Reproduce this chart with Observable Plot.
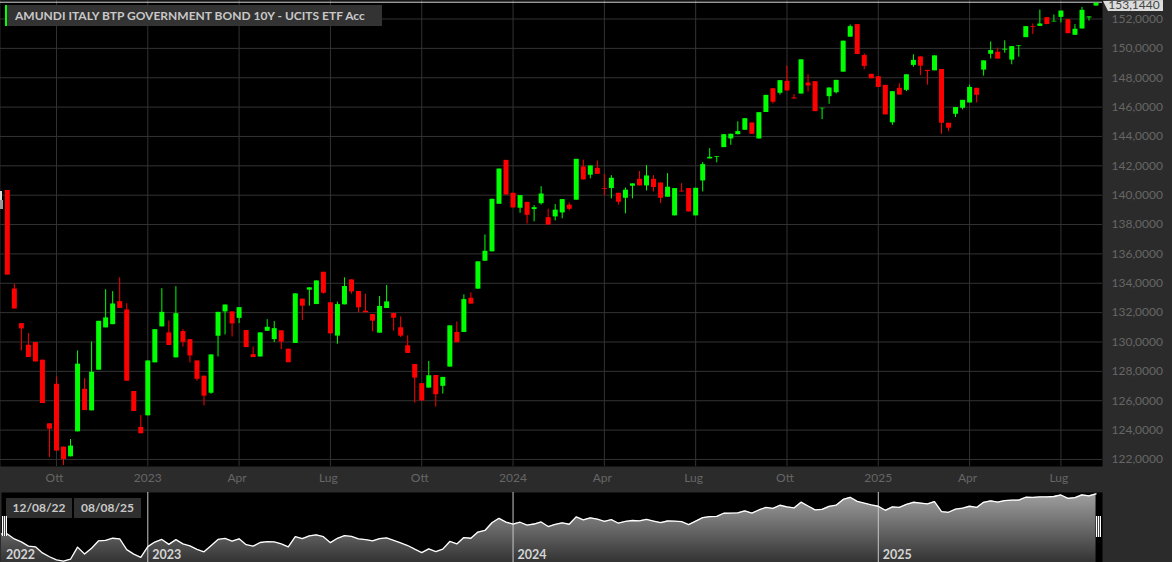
<!DOCTYPE html>
<html lang="it"><head><meta charset="utf-8">
<script src="https://cdn.jsdelivr.net/npm/d3@7"></script>
<script src="https://cdn.jsdelivr.net/npm/@observablehq/plot@0.6"></script>
<style>
html,body{margin:0;padding:0;background:#2b2b2b;overflow:hidden}
#chart{position:relative;width:1172px;height:562px;overflow:hidden;font-family:Lato,sans-serif}
#chart svg{position:absolute;left:0;background:transparent}
.box{position:absolute;background:#2f2f2f;color:#c8c8c8;font-weight:700;font-size:12px;line-height:20px;white-space:nowrap}
.grip{position:absolute;width:5px;background:repeating-linear-gradient(90deg,#fff 0 1px,#444 1px 2px)}
</style></head><body><div id="chart"></div>
<script>
const title = "AMUNDI ITALY BTP GOVERNMENT BOND 10Y - UCITS ETF Acc";
const dateFrom = "12/08/22", dateTo = "08/08/25";
const lastPrice = 153.144, lastLabel = "153,1440";
const yearTickWeeks = [20,72,124];
const yearTickLabels = ["2023","2024","2025"];
const monthTickWeeks = [7,33,46,59,85,98,111,137,150];
const monthTickLabels = ["Ott","Apr","Lug","Ott","Apr","Lug","Ott","Apr","Lug"];
const priceTicks = [122,124,126,128,130,132,134,136,138,140,142,144,146,148,150,152];
const yearLabelWeeks = [-0.83,20,72,124];
const yearLabels = ["2022","2023","2024","2025"];

const opens = [140.32,133.61,131.25,129.78,129.96,128.76,124.43,127.12,122.84,122.18,
123.88,126.78,125.31,128.08,130.96,131.18,132.75,132.18,126.63,124.18,
124.97,128.58,131.03,130.62,128.92,130.71,130.16,128.71,127.67,126.51,
130.39,132.05,132.05,131.61,130.78,129.14,128.98,130.73,130.16,130.76,
129.51,129.90,132.92,133.53,132.55,134.75,132.67,130.40,132.53,134.23,
133.44,132.10,131.87,130.60,132.28,131.94,130.97,129.74,128.47,127.16,
126.86,127.72,126.98,128.29,130.65,130.65,132.98,133.60,135.50,136.14,
139.38,142.37,140.13,139.11,139.51,139.02,139.42,138.47,138.52,138.79,
139.32,139.66,141.92,141.36,141.83,140.45,140.45,140.13,139.79,140.61,
141.08,140.63,141.08,140.83,139.86,138.59,140.27,140.45,138.59,140.97,
142.47,142.58,143.24,143.83,144.12,144.42,144.92,143.83,145.63,147.25,
146.94,147.75,146.62,146.89,147.64,147.73,145.88,146.71,146.98,148.38,
150.76,151.62,149.51,148.23,148.07,147.48,144.93,147.28,147.14,148.84,
149.42,148.50,148.47,148.56,144.90,145.51,145.92,146.28,147.28,148.52,
149.60,149.74,149.88,149.20,150.15,150.73,151.48,151.50,152.09,151.80,
152.11,151.95,150.89,151.32,152.07,152.88];
const closes = [134.56,132.25,130.89,128.94,128.64,125.81,124.06,122.57,122.00,122.91,
128.49,125.33,127.94,131.41,131.64,132.59,132.29,127.33,125.27,123.75,
128.71,130.84,132.02,129.76,131.93,129.98,129.05,127.46,126.31,129.12,
132.02,132.52,131.23,132.34,129.62,128.94,130.62,131.00,130.91,129.99,
128.59,133.28,132.44,133.69,134.16,133.32,130.56,132.55,133.78,133.41,
132.33,131.99,131.42,132.42,132.73,131.62,130.40,129.22,127.54,125.98,
127.70,126.41,127.59,131.10,129.95,132.89,132.58,135.46,136.18,139.72,
141.78,140.01,139.13,139.97,138.63,139.15,140.08,137.97,138.98,139.70,
139.04,142.44,141.04,141.99,141.42,140.40,141.15,139.52,140.34,140.77,
140.63,141.31,140.52,139.79,140.54,140.45,140.22,138.86,140.47,142.08,
142.58,142.63,144.12,144.15,144.33,145.21,144.15,145.62,146.80,146.33,
147.80,147.10,146.55,149.22,147.44,145.69,145.92,147.30,147.82,150.49,
151.48,149.58,148.77,147.93,147.34,145.47,147.05,146.82,148.20,149.18,
148.79,148.43,149.49,144.90,144.56,145.97,146.46,147.34,146.80,149.15,
149.85,149.27,149.94,150.12,150.19,151.48,151.43,151.66,151.62,151.84,
152.54,151.00,151.30,152.59,152.14,153.08];
const highs = [140.32,133.93,131.25,130.57,129.96,128.76,124.43,127.62,122.84,123.36,
129.39,127.51,130.00,131.41,133.56,133.43,134.38,132.61,126.63,124.99,
128.71,130.84,133.63,131.43,133.77,130.84,130.16,128.71,127.67,129.12,
132.02,132.52,132.05,132.34,130.78,129.66,130.62,131.52,131.39,130.76,
129.51,133.28,132.92,133.69,134.16,134.75,132.67,132.71,134.37,134.23,
133.44,133.26,131.87,133.10,133.85,131.94,131.71,130.42,128.47,127.16,
128.68,127.72,127.59,131.10,131.37,133.21,133.35,135.46,137.29,139.72,
141.78,142.37,140.13,139.97,139.51,139.29,140.58,139.04,139.36,139.70,
139.47,142.44,142.38,141.99,142.33,141.42,141.33,140.13,140.49,140.77,
141.61,142.01,141.33,140.83,141.47,140.45,140.79,140.45,140.47,142.22,
143.17,142.63,144.12,144.15,145.00,145.21,144.92,145.62,146.80,147.25,
147.80,148.79,146.85,149.22,148.20,147.73,145.92,147.30,147.82,150.49,
151.59,151.62,149.63,148.23,148.07,147.48,147.05,147.59,148.20,149.56,
149.42,148.50,149.49,148.56,144.90,145.97,146.46,147.50,147.28,149.15,
150.44,150.01,150.51,150.12,150.19,151.48,151.66,152.61,152.09,152.27,
152.54,151.95,151.62,152.79,152.14,153.08];
const lows = [134.56,132.25,129.39,128.94,128.64,125.81,122.14,122.57,121.59,122.18,
123.88,125.33,125.31,128.08,130.96,131.18,132.29,127.33,125.27,123.75,
124.97,128.58,131.03,129.76,128.92,129.66,128.58,127.33,125.65,126.44,
128.98,130.48,130.34,131.25,129.62,128.94,128.98,130.73,129.96,129.47,
128.59,129.90,131.46,132.44,132.55,133.26,130.49,129.85,132.53,133.26,
131.99,131.99,130.69,130.60,132.28,130.74,130.31,129.22,125.84,125.98,
126.86,125.57,126.45,128.29,129.95,130.65,132.58,133.60,135.50,136.14,
139.38,140.01,139.13,138.77,138.04,138.18,139.33,137.97,138.25,138.39,
138.93,139.66,141.04,141.11,141.42,139.97,139.75,139.32,138.73,139.75,
140.63,140.29,140.22,139.43,139.86,138.59,140.22,138.86,138.59,140.22,
142.47,142.20,143.24,143.40,144.12,144.42,144.15,143.83,145.63,146.21,
146.82,147.10,146.55,146.89,147.03,145.69,145.15,146.19,146.89,148.38,
150.76,149.58,148.54,147.93,147.34,145.47,144.75,146.82,147.05,148.72,
148.14,147.50,148.47,144.14,144.32,145.29,145.81,146.28,146.28,148.11,
149.27,149.27,149.67,148.88,149.40,150.73,150.94,151.50,151.62,151.80,
151.73,151.00,150.89,151.32,151.86,152.88];

const candles = closes.map((c,i)=>({week:i,open:opens[i],close:c,high:highs[i],low:lows[i]}));
const upColor="#00ff00", downColor="#ff0000", gridColor="#333333", axisText="#666666";
const col = d => d.close>=d.open ? upColor : downColor;
const allTicks=[...yearTickWeeks,...monthTickWeeks];

const main = Plot.plot({
  width:1172,height:490,marginLeft:0,marginRight:70,marginTop:0,marginBottom:24,
  style:{fontFamily:"Lato, sans-serif",fontSize:"12px",background:"transparent",overflow:"visible"},
  x:{type:"linear",domain:[-0.97,155.92]},
  y:{domain:[121.52,153.26]},
  marks:[
    Plot.frame({fill:"#000",stroke:null}),
    Plot.gridY(priceTicks,{stroke:gridColor,strokeOpacity:1}),
    Plot.gridX(allTicks,{stroke:gridColor,strokeOpacity:1}),
    Plot.axisY(priceTicks,{anchor:"right",tickSize:0,tickPadding:9,label:null,fill:axisText,
      tickFormat:d=>d3.format(".4f")(d).replace(".",",")}),
    Plot.axisX(yearTickWeeks,{anchor:"bottom",tickSize:0,tickPadding:7,label:null,fill:axisText,
      tickFormat:d=>yearTickLabels[yearTickWeeks.indexOf(d)]}),
    Plot.axisX(monthTickWeeks,{anchor:"bottom",tickSize:0,tickPadding:7,dx:-2,label:null,fill:axisText,
      tickFormat:d=>monthTickLabels[monthTickWeeks.indexOf(d)]}),
    Plot.ruleY([lastPrice],{stroke:"#dddddd",strokeWidth:1}),
    Plot.ruleX(candles,{x:"week",y1:"low",y2:"high",stroke:col,strokeWidth:1}),
    Plot.ruleX(candles,{x:"week",y1:"open",y2:"close",stroke:col,strokeWidth:5})
  ]});
main.style.top="0px";

const navData=[{week:-0.83,close:closes[0]},...candles];
const defs=()=>{const d=d3.create("svg:defs");
  const g=d.append("linearGradient").attr("id","navfill").attr("x1",0).attr("x2",0).attr("y1",0).attr("y2",1);
  g.append("stop").attr("offset","0%").attr("stop-color","#a0a0a0");
  g.append("stop").attr("offset","100%").attr("stop-color","#333333");
  return d.node();};
const nav = Plot.plot({
  width:1172,height:70,marginLeft:1,marginRight:70,marginTop:0,marginBottom:0,
  style:{fontFamily:"Lato, sans-serif",fontSize:"12.5px",background:"transparent",overflow:"visible"},
  x:{type:"linear",domain:[-0.83,155.92],axis:null},
  y:{domain:[121.4,153.68],axis:null},
  marks:[
    defs,
    Plot.frame({fill:"#000",stroke:null}),
    Plot.areaY(navData,{x:"week",y1:121.4,y2:"close",fill:"url(#navfill)"}),
    Plot.ruleX(yearTickWeeks,{stroke:"#c8c8c8",strokeWidth:1}),
    Plot.lineY(navData,{x:"week",y:"close",stroke:"#ffffff",strokeWidth:1.3}),
    Plot.text(yearLabels,{x:(d,i)=>yearLabelWeeks[i],text:d=>d,frameAnchor:"bottom",dy:-4,dx:4.5,textAnchor:"start",
      fill:"#d4d4d4",fontWeight:700,lineAnchor:"bottom"})
  ]});
nav.style.top="492px";

const root=document.getElementById("chart");
root.append(main,nav);
const add=(cls,css,text)=>{const e=document.createElement("div");e.className=cls;e.style.cssText=css;if(text)e.textContent=text;root.append(e);return e;};
add("box","left:5px;top:5px;width:377px;height:21px;border-left:2px solid #00ff00;box-sizing:border-box;padding-left:8px;background:#333;line-height:21px",title);
add("box","left:6px;top:498px;width:66px;height:20px;text-align:center",dateFrom);
add("box","left:74px;top:498px;width:67px;height:20px;text-align:center",dateTo);
add("grip","left:2px;top:516px;height:20px");
add("grip","left:1096px;top:516px;height:21px");
add("box","left:0;top:191px;width:1.5px;height:9px;background:#ddd");
add("box","left:0;top:200px;width:3px;height:9px;background:#999");
add("box","left:1103px;top:0;width:60px;height:11px;background:#dcdcdc;color:#444;font-weight:400;font-size:12px;line-height:9px;text-align:center;padding-left:2px;box-sizing:border-box;clip-path:polygon(0 1px,100% 0,100% 100%,5px 100%)",lastLabel);
</script></body></html>
